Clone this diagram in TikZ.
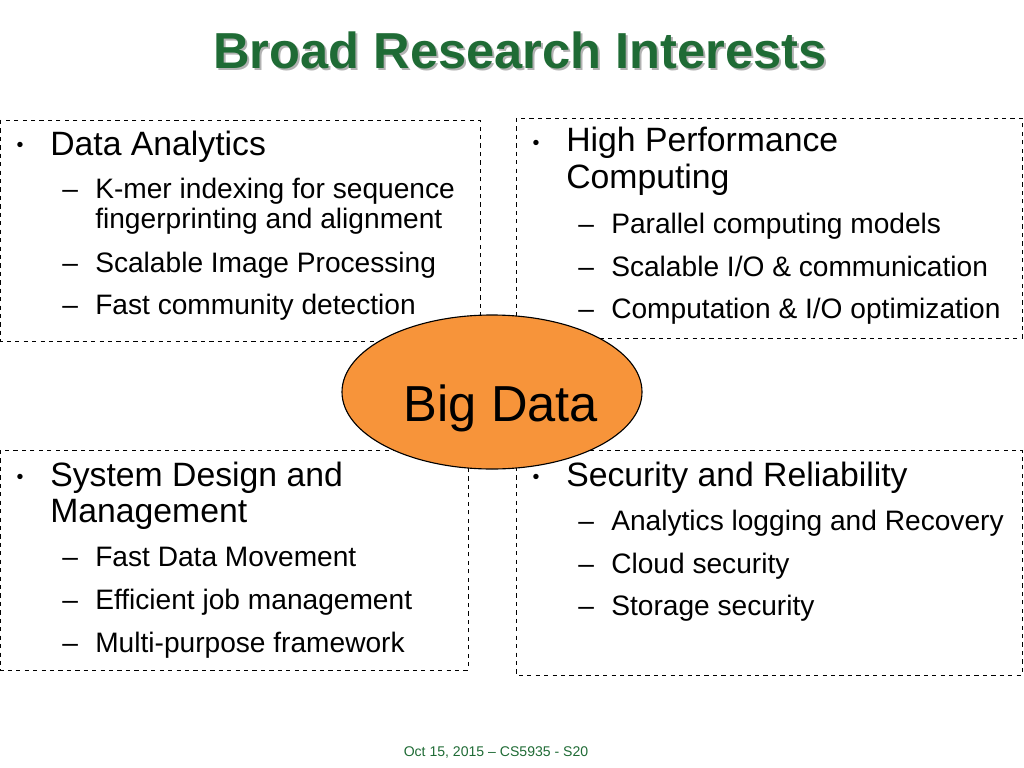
\documentclass[tikz,border=0pt]{standalone}
\usepackage{fontspec}
\setmainfont{Liberation Sans}
\usetikzlibrary{positioning,shapes}
\definecolor{titlegreen}{HTML}{1F6B35}
\definecolor{bigorange}{HTML}{F7943A}
\begin{document}
\begin{tikzpicture}[x=0.025cm,y=-0.025cm]
   \tikzset{area/.style = {draw, dashed, thin}, }
   \tikzset{topic/.style = {anchor=base west, inner sep=0pt, font=\fontsize{24}{28}\selectfont}, }
   \tikzset{item/.style = {anchor=base west, inner sep=0pt, font=\fontsize{20}{24}\selectfont}, }
   \tikzset{dot/.style = {anchor=base, inner sep=0pt, font=\fontsize{14}{16}\selectfont}, }
   \useasboundingbox (0,0) rectangle (1024,768);
   % title
   \node[font=\bfseries\fontsize{36}{40}\selectfont, text=gray!60] (titleshadow) at (522,52) {Broad Research Interests};
   \node[font=\bfseries\fontsize{36}{40}\selectfont, text=titlegreen] (title) at (520,50) {Broad Research Interests};
   % areas
   \draw[area] (0,120) rectangle (480,341);
   \draw[area] (516,118) rectangle (1022,338);
   \draw[area] (0,450) rectangle (468,670);
   \draw[area] (516,450) rectangle (1022,675);
   % data analytics
   \node[dot] (b1) at (20,152) {\textbullet};
   \node[topic] (da) at (50,155) {Data Analytics};
   \node[item] (d1) at (62,198) {–};
   \node[item] (da1) at (95,198) {K-mer indexing for sequence};
   \node[item] (da1b) at (95,228) {fingerprinting and alignment};
   \node[item] (d2) at (62,272) {–};
   \node[item] (da2) at (95,272) {Scalable Image Processing};
   \node[item] (d3) at (62,314) {–};
   \node[item] (da3) at (95,314) {Fast community detection};
   % high performance computing
   \node[dot] (b2) at (536,150) {\textbullet};
   \node[topic] (hpc) at (566,152) {High Performance};
   \node[topic] (hpcb) at (566,189) {Computing};
   \node[item] (d4) at (578,233) {–};
   \node[item] (hpc1) at (611,233) {Parallel computing models};
   \node[item] (d5) at (578,276) {–};
   \node[item] (hpc2) at (611,276) {Scalable I/O \& communication};
   \node[item] (d6) at (578,318) {–};
   \node[item] (hpc3) at (611,318) {Computation \& I/O optimization};
   % system design
   \node[dot] (b3) at (20,483) {\textbullet};
   \node[topic] (sd) at (50,486) {System Design and};
   \node[topic] (sdb) at (50,522) {Management};
   \node[item] (d7) at (62,566) {–};
   \node[item] (sd1) at (95,566) {Fast Data Movement};
   \node[item] (d8) at (62,609) {–};
   \node[item] (sd2) at (95,609) {Efficient job management};
   \node[item] (d9) at (62,652) {–};
   \node[item] (sd3) at (95,652) {Multi-purpose framework};
   % security
   \node[dot] (b4) at (536,483) {\textbullet};
   \node[topic] (sr) at (566,486) {Security and Reliability};
   \node[item] (d10) at (578,530) {–};
   \node[item] (sr1) at (611,530) {Analytics logging and Recovery};
   \node[item] (d11) at (578,573) {–};
   \node[item] (sr2) at (611,573) {Cloud security};
   \node[item] (d12) at (578,615) {–};
   \node[item] (sr3) at (611,615) {Storage security};
   % big data
   \node[ellipse, draw, thick, fill=bigorange, minimum width=300*0.025cm, minimum height=154*0.025cm] (bd) at (492,392) {};
   \node[font=\fontsize{36}{40}\selectfont, anchor=base] (bdtext) at (501,421) {Big Data};
   % footer
   \node[font=\fontsize{10}{12}\selectfont, text=titlegreen] (foot) at (496,752) {Oct 15, 2015 – CS5935 - S20};
\end{tikzpicture}
\end{document}
